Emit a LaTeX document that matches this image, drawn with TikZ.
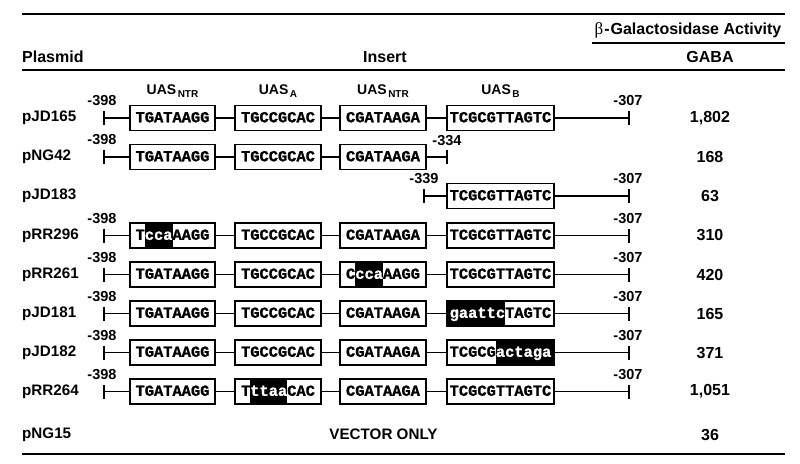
\documentclass[tikz,border=0pt]{standalone}
\usepackage{fontspec}
\setmainfont{Liberation Sans}
\newfontfamily\seqfont{Liberation Mono}[BoldFeatures={FakeBold=1.2}]
\newfontfamily\grkfont{Liberation Serif}
\usetikzlibrary{backgrounds}
\newcommand\hw[1]{\textcolor{white}{#1}}
\newcommand\uaslab[1]{UAS\hspace{1.5pt}\raisebox{-3.5pt}{\fontsize{10}{12}\selectfont #1}}
\newcommand\fullrow[6]{%
  \node[seqbox, minimum width=85pt] (#1a) at (172.5,#2) {#3};
  \node[seqbox, minimum width=86pt] (#1b) at (278,#2) {#4};
  \node[seqbox, minimum width=86pt] (#1c) at (383,#2) {#5};
  \node[seqbox, minimum width=107pt] (#1d) at (500.5,#2) {#6};
  \coordinate (#1L) at (104,#2);
  \coordinate (#1R) at (629,#2);
  \draw[tickmark] ([yshift=7pt]#1L) -- ([yshift=-7pt]#1L);
  \draw[tickmark] ([yshift=7pt]#1R) -- ([yshift=-7pt]#1R);
  \draw[conn] (#1L) -- (#1a);
  \draw[conn] (#1a) -- (#1b);
  \draw[conn] (#1b) -- (#1c);
  \draw[conn] (#1c) -- (#1d);
  \draw[conn] (#1d) -- (#1R);
  \node[num] (#1nl) at (102,#2-17) {-398};
  \node[num] (#1nr) at (628,#2-17) {-307};
}
\begin{document}
\begin{tikzpicture}[x=1pt,y=-1pt,
  lbl/.style={font=\fontsize{15.2}{18}\selectfont\bfseries, inner sep=0pt},
  hdr/.style={font=\fontsize{16}{18}\selectfont\bfseries, inner sep=0pt},
  val/.style={font=\fontsize{16}{18}\selectfont\bfseries, inner sep=0pt},
  seqbox/.style={draw, line width=1.5pt, minimum height=25pt, inner sep=0pt,
    font=\seqfont\fontsize{15.4}{18}\selectfont\bfseries, text height=8.6pt, text depth=0pt},
  conn/.style={line width=1.3pt},
  tickmark/.style={line width=1.5pt},
  rule/.style={line width=2pt},
  num/.style={font=\fontsize{14.5}{16}\selectfont\bfseries, inner sep=0pt},
  uas/.style={font=\fontsize{14}{16}\selectfont\bfseries, inner sep=0pt},
]
\useasboundingbox (0,0) rectangle (800,463);

% rules
\coordinate (t1) at (22,14); \coordinate (t2) at (785,14);
\draw[rule] (t1) -- (t2);
\coordinate (g1) at (592,43); \coordinate (g2) at (785,43);
\draw[line width=1.5pt] (g1) -- (g2);
\coordinate (h1) at (22,70); \coordinate (h2) at (785,70);
\draw[rule] (h1) -- (h2);
\coordinate (b1) at (22,454); \coordinate (b2) at (785,454);
\draw[rule] (b1) -- (b2);

% headers
\node[hdr] (beta) at (688,30) {{\grkfont\mdseries\fontsize{17}{18}\selectfont β}\hspace{1pt}-\hspace{1pt}Galactosidase Activity};
\node[hdr, anchor=west] (plasmid) at (22,57) {Plasmid};
\node[hdr] (insert) at (385,57) {Insert};
\node[hdr] (gaba) at (710,57) {GABA};

% UAS labels
\node[uas] (u1) at (172.5,91) {\uaslab{NTR}};
\node[uas] (u2) at (278,91) {\uaslab{A}};
\node[uas] (u3) at (383,91) {\uaslab{NTR}};
\node[uas] (u4) at (500.5,91) {\uaslab{B}};

% row 1 pJD165
\node[lbl, anchor=west] (p1) at (22,118) {pJD165};
\fullrow{r1}{118}{TGATAAGG}{TGCCGCAC}{CGATAAGA}{TCGCGTTAGTC}
\node[val] (v1) at (710,118) {1,802};

% row 2 pNG42
\node[lbl, anchor=west] (p2) at (22,157) {pNG42};
\node[seqbox, minimum width=85pt] (r2a) at (172.5,157) {TGATAAGG};
\node[seqbox, minimum width=86pt] (r2b) at (278,157) {TGCCGCAC};
\node[seqbox, minimum width=86pt] (r2c) at (383,157) {CGATAAGA};
\coordinate (r2L) at (104,157);
\coordinate (r2R) at (447,157);
\draw[tickmark] ([yshift=7pt]r2L) -- ([yshift=-7pt]r2L);
\draw[tickmark] ([yshift=7pt]r2R) -- ([yshift=-7pt]r2R);
\draw[conn] (r2L) -- (r2a);
\draw[conn] (r2a) -- (r2b);
\draw[conn] (r2b) -- (r2c);
\draw[conn] (r2c) -- (r2R);
\node[num] (r2nl) at (102,140) {-398};
\node[num] (r2nr) at (447,141) {-334};
\node[val] (v2) at (710,157) {168};

% row 3 pJD183
\node[lbl, anchor=west] (p3) at (22,196) {pJD183};
\node[seqbox, minimum width=107pt] (r3d) at (500.5,196) {TCGCGTTAGTC};
\coordinate (r3L) at (424,196);
\coordinate (r3R) at (629,196);
\draw[tickmark] ([yshift=7pt]r3L) -- ([yshift=-7pt]r3L);
\draw[tickmark] ([yshift=7pt]r3R) -- ([yshift=-7pt]r3R);
\draw[conn] (r3L) -- (r3d);
\draw[conn] (r3d) -- (r3R);
\node[num] (r3nl) at (424,179) {-339};
\node[num] (r3nr) at (628,179) {-307};
\node[val] (v3) at (710,196) {63};

% row 4 pRR296
\node[lbl, anchor=west] (p4) at (22,235.5) {pRR296};
\fullrow{r4}{235.5}{T\hw{cca}AAGG}{TGCCGCAC}{CGATAAGA}{TCGCGTTAGTC}
\node[val] (v4) at (710,235.5) {310};

% row 5 pRR261
\node[lbl, anchor=west] (p5) at (22,274.5) {pRR261};
\fullrow{r5}{274.5}{TGATAAGG}{TGCCGCAC}{C\hw{cca}AAGG}{TCGCGTTAGTC}
\node[val] (v5) at (710,274.5) {420};

% row 6 pJD181
\node[lbl, anchor=west] (p6) at (22,313.5) {pJD181};
\fullrow{r6}{313.5}{TGATAAGG}{TGCCGCAC}{CGATAAGA}{\hw{gaattc}TAGTC}
\node[val] (v6) at (710,313.5) {165};

% row 7 pJD182
\node[lbl, anchor=west] (p7) at (22,352.5) {pJD182};
\fullrow{r7}{352.5}{TGATAAGG}{TGCCGCAC}{CGATAAGA}{TCGCG\hw{actaga}}
\node[val] (v7) at (710,352.5) {371};

% row 8 pRR264
\node[lbl, anchor=west] (p8) at (22,391.5) {pRR264};
\fullrow{r8}{391.5}{TGATAAGG}{T\hw{ttaa}CAC}{CGATAAGA}{TCGCGTTAGTC}
\node[val] (v8) at (710,391.5) {1,051};

% row 9 pNG15
\node[lbl, anchor=west] (p9) at (22,434.5) {pNG15};
\node[lbl] (vec) at (383.5,434.5) {VECTOR ONLY};
\node[val] (v9) at (710,434.5) {36};

% black highlights
\begin{scope}[on background layer]
  \fill ([xshift=-27.72pt]r4a.north) rectangle (r4a.south);
  \fill ([xshift=-27.72pt]r5c.north) rectangle (r5c.south);
  \fill (r6d.north west) rectangle ([xshift=4.62pt]r6d.south);
  \fill ([xshift=-4.62pt]r7d.north) rectangle (r7d.south east);
  \fill ([xshift=-27.72pt]r8b.north) rectangle ([xshift=9.24pt]r8b.south);
\end{scope}
\end{tikzpicture}
\end{document}
